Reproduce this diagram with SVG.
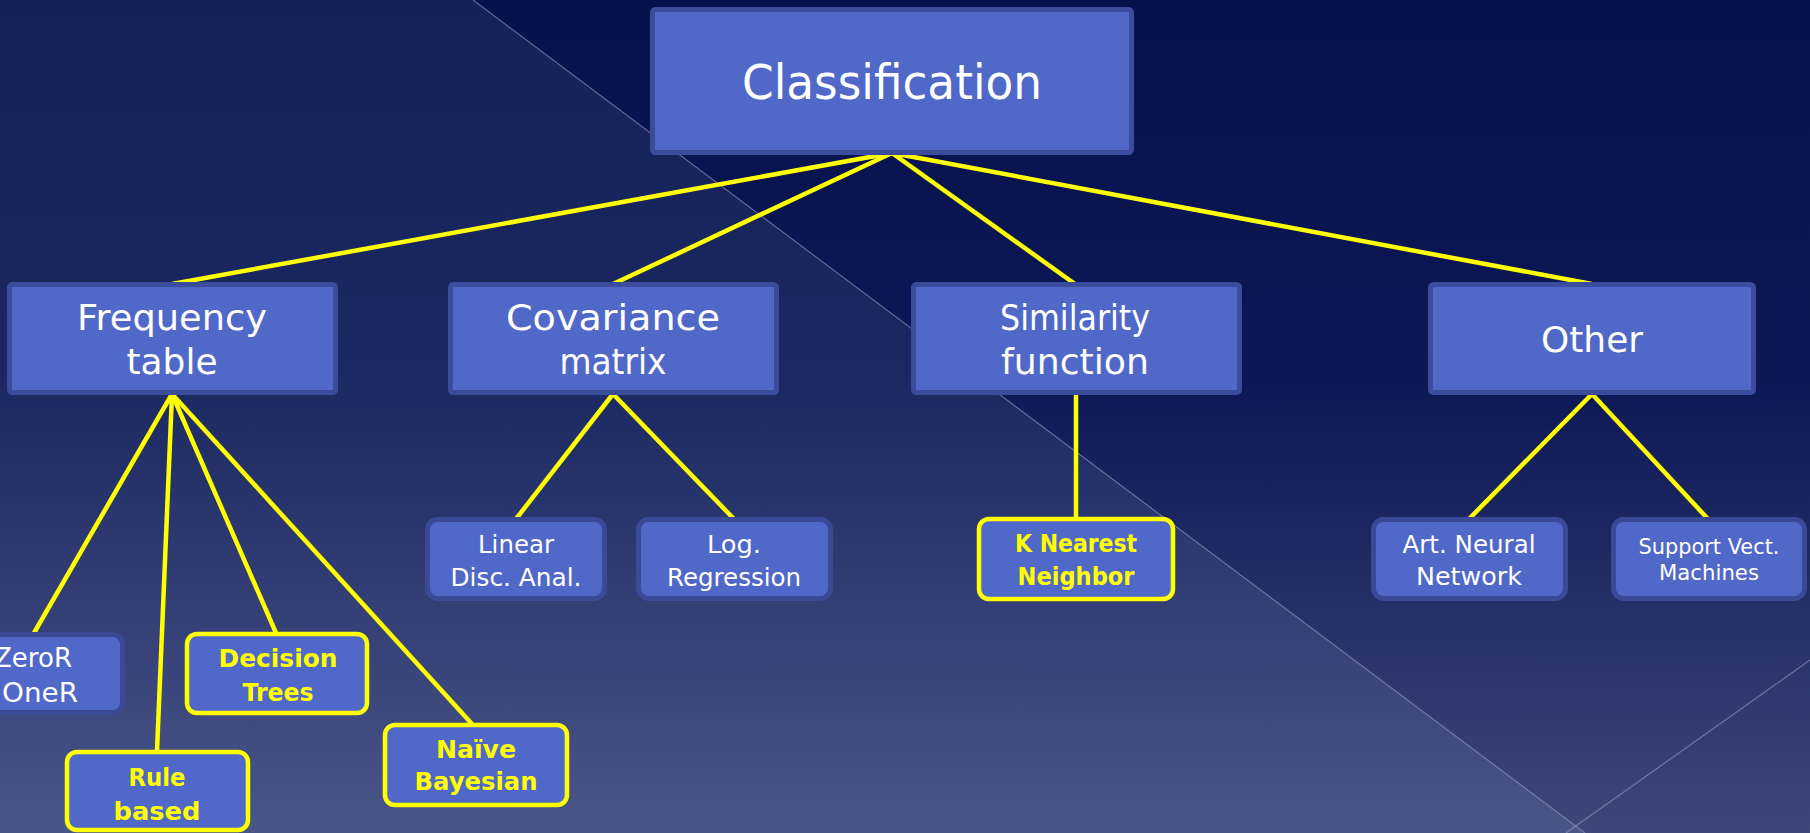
<svg xmlns="http://www.w3.org/2000/svg" width="1810" height="833" viewBox="0 0 1810 833">
<defs>
<linearGradient id="bgR" x1="0" y1="0" x2="0" y2="1">
<stop offset="0" stop-color="#07114c"/>
<stop offset="0.45" stop-color="#0c1755"/>
<stop offset="1" stop-color="#3d477a"/>
</linearGradient>
<linearGradient id="bgL" x1="0" y1="0" x2="0" y2="1">
<stop offset="0" stop-color="#152158"/>
<stop offset="0.45" stop-color="#1b2861"/>
<stop offset="1" stop-color="#4a5588"/>
</linearGradient>
<style>
.bgline{stroke:#a0a8c8;stroke-opacity:0.55;stroke-width:1.2;fill:none}
.conn{stroke:#ffff00;stroke-width:4.5;fill:none}
.top{fill:#5068c8;stroke:#3b4c9c;stroke-width:5}
.sub{fill:#5068c8;stroke:#3a4a96;stroke-width:5}
.hl{fill:#5068c8;stroke:#ffff00;stroke-width:4.5}
.t{fill:#ffffff;font-family:"DejaVu Sans","Liberation Sans",sans-serif;text-anchor:middle}
.b{fill:#ffff00;font-family:"DejaVu Sans","Liberation Sans",sans-serif;font-weight:bold;text-anchor:middle}
</style>
</defs>
<g id="background">
<rect x="0" y="0" width="1810" height="833" fill="url(#bgR)"/>
<polygon points="0,0 473,0 1585,833 0,833" fill="url(#bgL)"/>
<line class="bgline" x1="473" y1="0" x2="1585" y2="833"/>
<line class="bgline" x1="1566" y1="833" x2="1810" y2="660"/>
</g>
<g id="connectors">
<line class="conn" x1="892" y1="153" x2="172" y2="284"/>
<line class="conn" x1="892" y1="153" x2="613" y2="284"/>
<line class="conn" x1="892" y1="153" x2="1075" y2="284"/>
<line class="conn" x1="892" y1="153" x2="1592" y2="284"/>
<line class="conn" x1="172" y1="394" x2="34" y2="633"/>
<line class="conn" x1="172" y1="394" x2="157" y2="751"/>
<line class="conn" x1="172" y1="394" x2="276" y2="633"/>
<line class="conn" x1="172" y1="394" x2="472" y2="724"/>
<line class="conn" x1="613" y1="394" x2="516" y2="519"/>
<line class="conn" x1="613" y1="394" x2="734" y2="519"/>
<line class="conn" x1="1076" y1="394" x2="1076" y2="519"/>
<line class="conn" x1="1592" y1="394" x2="1469" y2="519"/>
<line class="conn" x1="1592" y1="394" x2="1708" y2="519"/>
</g>
<g id="classification">
<rect class="top" x="652.5" y="9.5" width="479" height="143" rx="3"/>
<text class="t" x="892" y="99" font-size="48" textLength="300" lengthAdjust="spacingAndGlyphs">Classification</text>
</g>
<g id="frequency-table">
<rect class="top" x="9.5" y="284.5" width="326" height="108" rx="3"/>
<text class="t" x="172" y="330" font-size="36" textLength="190" lengthAdjust="spacingAndGlyphs">Frequency</text>
<text class="t" x="172" y="374" font-size="36" textLength="91" lengthAdjust="spacingAndGlyphs">table</text>
</g>
<g id="covariance-matrix">
<rect class="top" x="450.5" y="284.5" width="326" height="108" rx="3"/>
<text class="t" x="613" y="330" font-size="36" textLength="214" lengthAdjust="spacingAndGlyphs">Covariance</text>
<text class="t" x="613" y="374" font-size="36" textLength="107" lengthAdjust="spacingAndGlyphs">matrix</text>
</g>
<g id="similarity-function">
<rect class="top" x="913.5" y="284.5" width="326" height="108" rx="3"/>
<text class="t" x="1075" y="330" font-size="36" textLength="150" lengthAdjust="spacingAndGlyphs">Similarity</text>
<text class="t" x="1075" y="374" font-size="36" textLength="148" lengthAdjust="spacingAndGlyphs">function</text>
</g>
<g id="other">
<rect class="top" x="1430.5" y="284.5" width="323" height="108" rx="3"/>
<text class="t" x="1592" y="352" font-size="36" textLength="102" lengthAdjust="spacingAndGlyphs">Other</text>
</g>
<g id="linear-disc-anal">
<rect class="sub" x="427.5" y="519.5" width="177" height="79" rx="10"/>
<text class="t" x="516" y="553" font-size="24" textLength="76" lengthAdjust="spacingAndGlyphs">Linear</text>
<text class="t" x="516" y="586" font-size="24" textLength="131" lengthAdjust="spacingAndGlyphs">Disc. Anal.</text>
</g>
<g id="log-regression">
<rect class="sub" x="638.5" y="519.5" width="192" height="79" rx="10"/>
<text class="t" x="734" y="553" font-size="24" textLength="54" lengthAdjust="spacingAndGlyphs">Log.</text>
<text class="t" x="734" y="586" font-size="24" textLength="134" lengthAdjust="spacingAndGlyphs">Regression</text>
</g>
<g id="k-nearest-neighbor">
<rect class="hl" x="979" y="519" width="194" height="80" rx="10"/>
<text class="b" x="1076" y="552" font-size="24" textLength="122" lengthAdjust="spacingAndGlyphs">K Nearest</text>
<text class="b" x="1076" y="585" font-size="24" textLength="117" lengthAdjust="spacingAndGlyphs">Neighbor</text>
</g>
<g id="art-neural-network">
<rect class="sub" x="1373.5" y="519.5" width="192" height="79" rx="10"/>
<text class="t" x="1469" y="553" font-size="24" textLength="133" lengthAdjust="spacingAndGlyphs">Art. Neural</text>
<text class="t" x="1469" y="585" font-size="24" textLength="106" lengthAdjust="spacingAndGlyphs">Network</text>
</g>
<g id="support-vect-machines">
<rect class="sub" x="1613.5" y="519.5" width="191" height="79" rx="10"/>
<text class="t" x="1709" y="554" font-size="21" textLength="141" lengthAdjust="spacingAndGlyphs">Support Vect.</text>
<text class="t" x="1709" y="580" font-size="21" textLength="100" lengthAdjust="spacingAndGlyphs">Machines</text>
</g>
<g id="zeror-oner">
<rect class="sub" x="-60" y="634.5" width="182.5" height="78" rx="10"/>
<text class="t" x="33" y="667" font-size="26" textLength="78" lengthAdjust="spacingAndGlyphs">ZeroR</text>
<text class="t" x="40" y="702" font-size="26" textLength="76" lengthAdjust="spacingAndGlyphs">OneR</text>
</g>
<g id="decision-trees">
<rect class="hl" x="187" y="634" width="180" height="79" rx="10"/>
<text class="b" x="278" y="667" font-size="25" textLength="119" lengthAdjust="spacingAndGlyphs">Decision</text>
<text class="b" x="278" y="701" font-size="25" textLength="71" lengthAdjust="spacingAndGlyphs">Trees</text>
</g>
<g id="rule-based">
<rect class="hl" x="67" y="752" width="181" height="78" rx="10"/>
<text class="b" x="157" y="786" font-size="25" textLength="57" lengthAdjust="spacingAndGlyphs">Rule</text>
<text class="b" x="157" y="820" font-size="25" textLength="87" lengthAdjust="spacingAndGlyphs">based</text>
</g>
<g id="naive-bayesian">
<rect class="hl" x="385" y="725" width="182" height="80" rx="10"/>
<text class="b" x="476" y="758" font-size="25" textLength="80" lengthAdjust="spacingAndGlyphs">Naïve</text>
<text class="b" x="476" y="790" font-size="25" textLength="123" lengthAdjust="spacingAndGlyphs">Bayesian</text>
</g>
</svg>
